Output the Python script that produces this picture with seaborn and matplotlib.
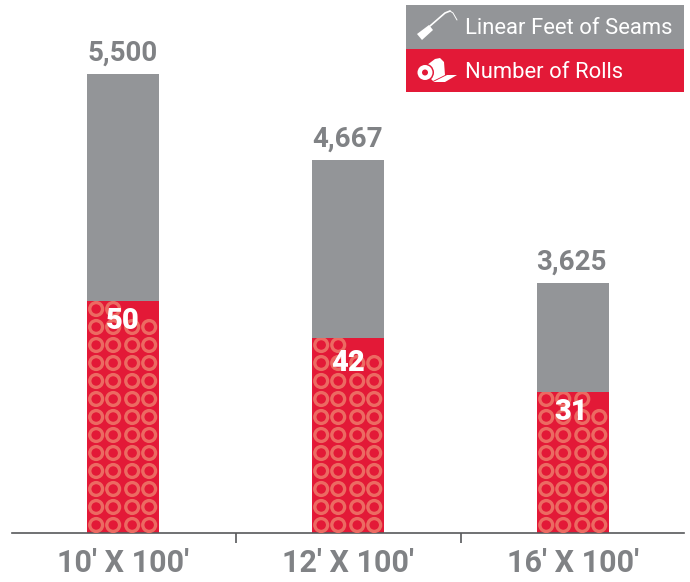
import pandas as pd
import matplotlib
matplotlib.use("Agg")
import matplotlib.pyplot as plt
from matplotlib.patches import Rectangle, Ellipse, Polygon
from matplotlib.lines import Line2D
import seaborn as sns

sizes = ["10' X 100'", "12' X 100'", "16' X 100'"]
seam_labels = ["5,500", "4,667", "3,625"]
roll_labels = ["50", "42", "31"]
# bar heights as drawn in the picture, they are not to scale with the labels
seam_heights = [5503, 4473, 2999]
roll_heights = [2780, 2337, 1690]
# ring texture: rows in each red bar and how many rings the top row keeps
ring_rows = [13, 11, 8]
top_row_rings = [2, 2, 3]
ring_cols_px = [9, 26, 45, 62]

GRAY = "#939598"
RED = "#e31937"
RING = "#ec6a62"
TEXT = "#808285"
AXIS = "#58595b"

sns.set_theme(style="white")
plt.rcParams["font.family"] = ["Roboto", "DejaVu Sans"]

df = pd.DataFrame({"size": sizes, "seams": seam_heights, "rolls": roll_heights})

fig = plt.figure(figsize=(6.9, 5.82), dpi=100)
ax = fig.add_axes([12 / 690, 49 / 582, 672 / 690, 533 / 582])

sns.barplot(data=df, x="size", y="seams", color=GRAY, saturation=1, width=0.318, linewidth=0, ax=ax)
sns.barplot(data=df, x="size", y="rolls", color=RED, saturation=1, width=0.318, linewidth=0, ax=ax)

ax.set_xlim(-0.493, 2.493)
ax.set_ylim(0, 6387)
ax.set_xlabel("")
ax.set_ylabel("")
ax.set_yticks([])
for name in ["top", "left", "right"]:
    ax.spines[name].set_visible(False)
ax.spines["bottom"].set_color(AXIS)
ax.spines["bottom"].set_linewidth(1.2)

ax.tick_params(axis="x", which="major", length=0, pad=11, labelsize=22, labelcolor=TEXT)
for lab in ax.get_xticklabels():
    lab.set_fontweight("bold")
ax.set_xticks([0.504, 1.504], minor=True)
ax.tick_params(axis="x", which="minor", bottom=True, length=7, width=1.2, color=AXIS)

px_y = 5500 / 459
px_x = 1 / 225

red_bars = ax.patches[3:]
for i, bar in enumerate(red_bars):
    left = bar.get_x()
    rx = []
    ry = []
    for row in range(ring_rows[i]):
        cols = ring_cols_px
        if row == ring_rows[i] - 1:
            cols = ring_cols_px[:top_row_rings[i]]
        for col in cols:
            rx.append(left + col * px_x)
            ry.append((8 + row * 18) * px_y)
    rings = ax.scatter(rx, ry, s=85, facecolors="none", edgecolors=RING, linewidths=2.4, zorder=3)
    rings.set_clip_path(bar)

label_drop_px = [6, 11, 6]
label_shift_px = [0, 0, -1.5]
for i in range(3):
    ax.text(i + label_shift_px[i] * px_x, seam_heights[i] + 84, seam_labels[i], ha="center", va="bottom",
            fontsize=20, fontweight="bold", color=TEXT)
    ax.text(i + label_shift_px[i] * px_x, roll_heights[i] - label_drop_px[i] * px_y, roll_labels[i],
            ha="center", va="top", fontsize=21, fontweight="black", color="white", zorder=4)


# legend box with icons, figure pixel coordinates
def fx(x):
    return x / 690


def fy(y):
    return 1 - y / 582


def box(x, y, w, h, color):
    fig.add_artist(Rectangle((fx(x), fy(y + h)), w / 690, h / 582, transform=fig.transFigure,
                             facecolor=color, edgecolor="none", zorder=1))


def poly(points, color="white"):
    fig.add_artist(Polygon([(fx(a), fy(b)) for a, b in points], closed=True, transform=fig.transFigure,
                           facecolor=color, edgecolor="none", zorder=2))


def disc(x, y, r, color):
    fig.add_artist(Ellipse((fx(x), fy(y)), 2 * r / 690, 2 * r / 582, transform=fig.transFigure,
                           facecolor=color, edgecolor="none", zorder=2))


box(406, 5, 278, 44, GRAY)
box(406, 49, 278, 43, RED)
fig.text(fx(465), fy(28), "Linear Feet of Seams", color="white", fontsize=15.8, va="center", ha="left", zorder=3)
fig.text(fx(465), fy(72), "Number of Rolls", color="white", fontsize=15.8, va="center", ha="left", zorder=3)

# seam tool icon
poly([(417, 34), (429, 25), (433, 30), (422, 40)])
fig.add_artist(Line2D([fx(430), fx(445), fx(450)], [fy(26), fy(13), fy(11)], color="white", lw=1.2, zorder=2))
fig.add_artist(Line2D([fx(450), fx(453), fx(457)], [fy(11), fy(13), fy(20)], color="white", lw=0.7, zorder=2))

# roll icon
poly([(427, 65), (435, 59), (440, 58), (444, 62), (445, 75), (433, 81), (426, 74)])
poly([(433, 82), (447, 75), (457, 75), (445, 82)])
disc(425, 72.5, 9, RED)
disc(425, 72.5, 7.5, "white")
disc(425, 72.5, 3, RED)

fig.savefig("out.png", dpi=100)
